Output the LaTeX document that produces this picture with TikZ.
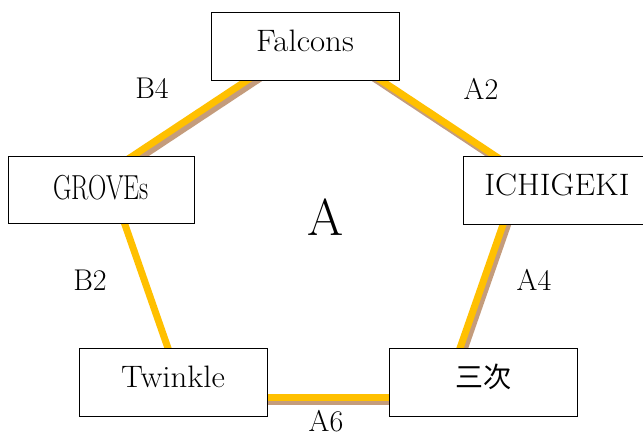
\documentclass[tikz,border=0pt]{standalone}
\usepackage{fontspec}
\newfontfamily\cjk{Noto Sans CJK JP}
\definecolor{lineyel}{RGB}{255,192,0}
\definecolor{lineshd}{RGB}{196,156,124}
\begin{document}
\begin{tikzpicture}[x=1pt,y=-1pt,
  box/.style={draw=black,line width=1pt,fill=white,minimum width=188pt,minimum height=68pt,inner sep=0pt,
    text height=21pt,text depth=11pt,font=\fontsize{31}{36}\selectfont},
  lbl/.style={inner sep=0pt,text height=20pt,text depth=0pt,font=\fontsize{30}{36}\selectfont},
  edge/.style={line width=7pt,draw=lineyel},
  shd/.style={line width=7pt,draw=lineshd}]
\clip (0,0) rectangle (643,437);
\fill[white] (0,0) rectangle (643,437);
% pentagon vertices
\coordinate (vT) at (314,36);
\coordinate (vL) at (107,173);
\coordinate (vR) at (521,173);
\coordinate (vBL) at (185,397);
\coordinate (vBR) at (443,397);
% shadows
\draw[shd] ([shift={(3,4.5)}]vT) -- ([shift={(3,4.5)}]vL);
\draw[shd] ([shift={(3,4.5)}]vT) -- ([shift={(3,4.5)}]vR);
\draw[shd] ([shift={(3,4.5)}]vR) -- ([shift={(3,4.5)}]vBR);
\draw[shd] ([shift={(3,4.5)}]vBL) -- ([shift={(3,4.5)}]vBR);
% yellow lines
\draw[edge] (vT) -- (vL);
\draw[edge] (vT) -- (vR);
\draw[edge] (vR) -- (vBR);
\draw[edge] (vBL) -- (vBR);
\draw[edge] (vL) -- (vBL);
% boxes
\node[box] (falcons) at (305,46) {\scalebox{1.06}[1]{Falcons}};
\node[box,minimum width=186pt,minimum height=67pt,text height=24pt,text depth=4pt] (groves) at (101,189.5)
  {\scalebox{0.82}[1.12]{GROVEs}};
\node[box] (ichigeki) at (557,190) {\scalebox{1.06}[1]{ICHIGEKI}};
\node[box] (twinkle) at (173,382.5) {\scalebox{1.06}[1]{Twinkle}};
\node[box] (sanji) at (483,382.5) {\cjk\fontsize{28}{34}\selectfont 三次};
% labels
\node[lbl] (lB4) at (152,88) {B4};
\node[lbl] (lA2) at (481,89) {A2};
\node[lbl] (lB2) at (90,280) {B2};
\node[lbl] (lA4) at (534,280) {A4};
\node[lbl] (lA6) at (326,421) {A6};
\node[inner sep=0pt,text height=34pt,text depth=0pt,font=\fontsize{52}{60}\selectfont] (lA) at (326,218) {A};
\end{tikzpicture}
\end{document}
